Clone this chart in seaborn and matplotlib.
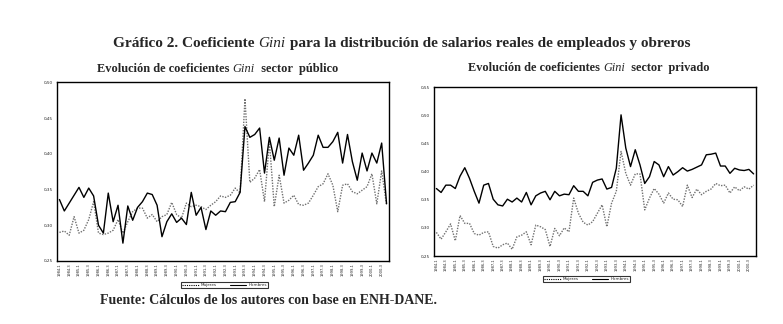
import matplotlib
matplotlib.use("Agg")
import matplotlib.pyplot as plt
import numpy as np
import pandas as pd
import seaborn as sns
from matplotlib.lines import Line2D
from matplotlib.ticker import FixedLocator, FuncFormatter

# ---------------- data (quarterly, 1984-I .. 2000-IV) ----------------
periods = [f"{1984 + k // 4}-{k % 4 + 1}" for k in range(68)]

pub_hombres = [0.336, 0.320, 0.331, 0.342, 0.353, 0.339, 0.352, 0.341, 0.300, 0.289,
               0.345, 0.305, 0.328, 0.275, 0.327, 0.307, 0.325, 0.333, 0.345, 0.343,
               0.328, 0.284, 0.305, 0.316, 0.304, 0.310, 0.301, 0.346, 0.314, 0.325,
               0.294, 0.320, 0.314, 0.320, 0.319, 0.332, 0.333, 0.346, 0.438, 0.423,
               0.427, 0.436, 0.373, 0.423, 0.391, 0.422, 0.370, 0.408, 0.398, 0.426,
               0.377, 0.387, 0.398, 0.426, 0.409, 0.409, 0.417, 0.430, 0.387, 0.427,
               0.389, 0.363, 0.401, 0.376, 0.401, 0.387, 0.415, 0.330]
pub_mujeres = [0.290, 0.292, 0.286, 0.312, 0.289, 0.293, 0.308, 0.333, 0.289, 0.287,
               0.289, 0.293, 0.308, 0.289, 0.305, 0.319, 0.324, 0.324, 0.310, 0.315,
               0.305, 0.312, 0.315, 0.332, 0.315, 0.310, 0.331, 0.326, 0.328, 0.326,
               0.322, 0.328, 0.333, 0.341, 0.339, 0.342, 0.352, 0.345, 0.477, 0.360,
               0.366, 0.378, 0.333, 0.417, 0.326, 0.370, 0.331, 0.335, 0.342, 0.329,
               0.328, 0.331, 0.342, 0.354, 0.358, 0.372, 0.356, 0.319, 0.356, 0.358,
               0.347, 0.344, 0.349, 0.354, 0.372, 0.330, 0.376, 0.328]

pri_hombres = [0.370, 0.363, 0.376, 0.376, 0.370, 0.392, 0.407, 0.388, 0.365, 0.344,
               0.376, 0.379, 0.351, 0.341, 0.339, 0.351, 0.346, 0.353, 0.346, 0.363,
               0.341, 0.357, 0.362, 0.365, 0.350, 0.365, 0.357, 0.360, 0.359, 0.375,
               0.365, 0.365, 0.357, 0.381, 0.385, 0.387, 0.369, 0.372, 0.406, 0.501,
               0.442, 0.409, 0.439, 0.412, 0.379, 0.391, 0.418, 0.412, 0.391, 0.409,
               0.394, 0.400, 0.407, 0.401, 0.404, 0.408, 0.412, 0.430, 0.431, 0.433,
               0.410, 0.410, 0.397, 0.406, 0.403, 0.402, 0.404, 0.396]
pri_mujeres = [0.292, 0.280, 0.293, 0.307, 0.277, 0.322, 0.308, 0.308, 0.290, 0.287,
               0.292, 0.293, 0.267, 0.264, 0.270, 0.273, 0.262, 0.284, 0.287, 0.293,
               0.270, 0.305, 0.302, 0.297, 0.267, 0.299, 0.286, 0.300, 0.293, 0.353,
               0.326, 0.310, 0.305, 0.311, 0.326, 0.341, 0.302, 0.344, 0.365, 0.436,
               0.397, 0.376, 0.396, 0.396, 0.332, 0.353, 0.370, 0.360, 0.344, 0.362,
               0.351, 0.350, 0.338, 0.376, 0.354, 0.369, 0.359, 0.365, 0.369, 0.379,
               0.375, 0.376, 0.362, 0.373, 0.366, 0.373, 0.369, 0.376]

series_labels = ["Mujeres", "Hombres"]

title_pieces = [("Gráfico 2. Coeficiente ", "bold"), ("Gini", "italic"),
                (" para la distribución de salarios reales de empleados y obreros", "bold")]
sub_pub = [("Evolución de coeficientes ", "bold"), ("Gini", "italic"), ("  sector  público", "bold")]
sub_pri = [("Evolución de coeficientes ", "bold"), ("Gini", "italic"), ("  sector  privado", "bold")]
source_text = "Fuente: Cálculos de los autores con base en ENH-DANE."

# ---------------- figure ----------------
sns.set_theme(style="white")
plt.rcParams["font.family"] = ["Liberation Serif", "DejaVu Serif"]

W, H = 783, 324
fig = plt.figure(figsize=(W / 100, H / 100), dpi=100)
fig.patch.set_facecolor("white")


def px_axes(x0, y0, x1, y1):
    return fig.add_axes([x0 / W, 1 - y1 / H, (x1 - x0) / W, (y1 - y0) / H])


ax1 = px_axes(57, 82.3, 389, 261)
ax2 = px_axes(434, 87.3, 756, 256)

x = np.arange(len(periods))


def draw_panel(ax, hombres, mujeres, ylo, yhi):
    df = pd.DataFrame({"k": x, "Hombres": hombres, "Mujeres": mujeres})
    sns.lineplot(data=df, x="k", y="Mujeres", ax=ax, color="#707070",
                 linestyle=(0, (1, 1)), linewidth=1.0)
    sns.lineplot(data=df, x="k", y="Hombres", ax=ax, color="black",
                 linestyle="-", linewidth=1.0)
    ax.set_xlim(-0.5, len(periods) - 0.5)
    ax.set_ylim(ylo, yhi)
    ax.set_xlabel("")
    ax.set_ylabel("")
    ax.set_yticks(np.round(np.arange(ylo, yhi + 0.001, 0.05), 2))
    ax.yaxis.set_major_formatter(FuncFormatter(lambda v, p: f"{v:.2f}".replace(".", ",")))
    ax.set_xticks(x[::2])
    ax.set_xticklabels(periods[::2], rotation=90, fontsize=2.6, family="DejaVu Sans")
    ax.xaxis.set_minor_locator(FixedLocator(np.arange(-0.5, len(periods), 1)))
    ax.tick_params(axis="x", which="major", length=0, pad=1.5)
    ax.tick_params(axis="x", which="minor", length=2, width=0.6, color="black", direction="out")
    ax.tick_params(axis="y", which="major", length=2, width=0.6, color="black",
                   direction="out", labelsize=3, pad=1)
    for lab in ax.get_yticklabels():
        lab.set_family("DejaVu Sans")
    for s in ax.spines.values():
        s.set_color("black")
        s.set_linewidth(1.0)
        s.set_visible(True)
    ax.grid(False)
    ax.set_facecolor("white")


draw_panel(ax1, pub_hombres, pub_mujeres, 0.25, 0.50)
draw_panel(ax2, pri_hombres, pri_mujeres, 0.25, 0.55)

handles = [Line2D([], [], color="black", linestyle=(0, (1, 1)), linewidth=0.8),
           Line2D([], [], color="black", linestyle="-", linewidth=0.8)]
for cx, cy in [(224.5, 285), (586.5, 279)]:
    leg = fig.legend(handles, series_labels, loc="center", bbox_to_anchor=(cx / W, 1 - cy / H),
                     ncol=2, frameon=True, fancybox=False, handlelength=4,
                     handletextpad=0.5, columnspacing=3, borderpad=0.35,
                     prop={"family": "DejaVu Sans", "size": 3})
    leg.get_frame().set_edgecolor("black")
    leg.get_frame().set_linewidth(0.8)

renderer = fig.canvas.get_renderer()


def piece_width(s, **kw):
    t = fig.text(0, 0, "|" + s + "|", **kw)
    t0 = fig.text(0, 0, "||", **kw)
    w = t.get_window_extent(renderer).width - t0.get_window_extent(renderer).width
    t.remove()
    t0.remove()
    return w


def rich_text(x_left_px, y_base_px, pieces, size):
    styles = {"bold": dict(fontweight="bold", fontstyle="normal"),
              "italic": dict(fontweight="normal", fontstyle="italic")}
    xpos = x_left_px
    for s, st in pieces:
        kw = dict(fontsize=size, **styles[st])
        fig.text(xpos / W, 1 - y_base_px / H, s, va="baseline", ha="left", **kw)
        xpos += piece_width(s, **kw)


rich_text(113, 47, title_pieces, 11.0)
rich_text(97, 72, sub_pub, 8.9)
rich_text(468, 71, sub_pri, 8.8)
fig.text(100 / W, 1 - 304 / H, source_text, fontsize=10, fontweight="bold",
         va="baseline", ha="left")

fig.savefig("out.png", dpi=100, facecolor="white")
